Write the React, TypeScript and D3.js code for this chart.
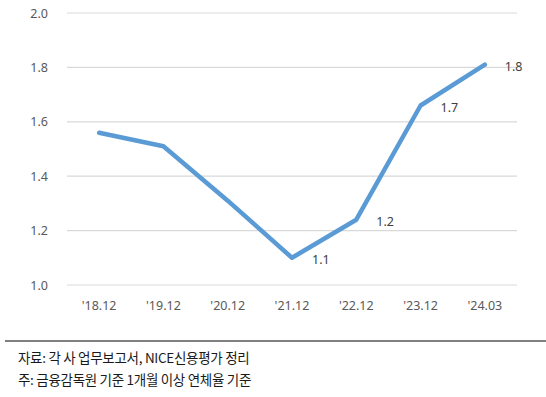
import React from "react";
import * as d3 from "d3";

const categories = ["'18.12", "'19.12", "'20.12", "'21.12", "'22.12", "'23.12", "'24.03"];
const values = [1.56, 1.51, 1.31, 1.1, 1.24, 1.66, 1.81];
const dataLabels = ["", "", "", "1.1", "1.2", "1.7", "1.8"];
const yTicks = [1.0, 1.2, 1.4, 1.6, 1.8, 2.0];
const footnotes = ["자료: 각 사 업무보고서, NICE신용평가 정리", "주: 금융감독원 기준 1개월 이상 연체율 기준"];

const W = 546;
const H = 397;
const plotLeft = 67;
const plotRight = 517;
const plotTop = 13;
const plotBottom = 285;

export default function App() {
  const x = d3.scaleBand<string>().domain(categories).range([plotLeft, plotRight]);
  const y = d3.scaleLinear().domain([1.0, 2.0]).range([plotBottom, plotTop]);
  const cx = (c: string) => (x(c) as number) + x.bandwidth() / 2;
  const line = d3
    .line<number>()
    .x((_, i) => cx(categories[i]))
    .y((d) => y(d));
  const font = "'Noto Sans', 'DejaVu Sans', sans-serif";
  const kfont = "'Noto Sans CJK KR', sans-serif";
  return (
    <svg
      width={W}
      height={H}
      style={{ position: "absolute", left: 0, top: 0, background: "#fff" }}
    >
      {yTicks.map((t) => (
        <g key={t}>
          <line x1={plotLeft} x2={plotRight} y1={y(t)} y2={y(t)} stroke="#d9d9d9" strokeWidth={1.2} />
          <text
            x={48}
            y={y(t)}
            textAnchor="end"
            dominantBaseline="central"
            fontFamily={font}
            fontSize={12.5}
            fill="#595959"
          >
            {t.toFixed(1)}
          </text>
        </g>
      ))}
      {categories.map((c) => (
        <text
          key={c}
          x={cx(c)}
          y={305}
          textAnchor="middle"
          dominantBaseline="central"
          fontFamily={font}
          fontSize={12.5}
          fill="#595959"
        >
          {c}
        </text>
      ))}
      <path
        d={line(values) || ""}
        fill="none"
        stroke="#5b9bd5"
        strokeWidth={4.5}
        strokeLinejoin="round"
        strokeLinecap="round"
      />
      {values.map((v, i) =>
        dataLabels[i] ? (
          <text
            key={i}
            x={cx(categories[i]) + 20}
            y={y(v) + 2}
            dominantBaseline="central"
            fontFamily={font}
            fontSize={12.5}
            fill="#404040"
          >
            {dataLabels[i]}
          </text>
        ) : null
      )}
      <line x1={5} x2={W} y1={341} y2={341} stroke="#808080" strokeWidth={2} />
      {footnotes.map((f, i) => (
        <text
          key={i}
          x={18}
          y={357 + i * 22}
          dominantBaseline="central"
          fontFamily={kfont}
          fontSize={13.5}
          letterSpacing={-0.3}
          fill="#1a1a1a"
        >
          {f}
        </text>
      ))}
    </svg>
  );
}
